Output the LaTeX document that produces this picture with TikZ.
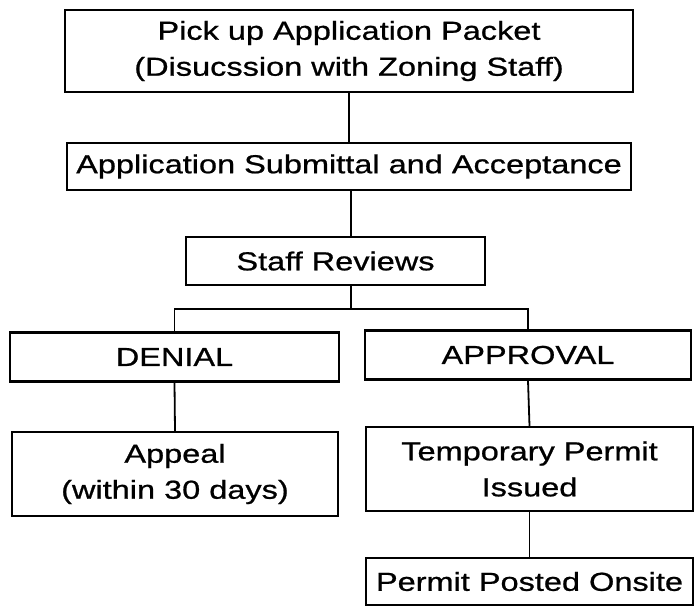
\documentclass[tikz,border=0pt]{standalone}
\usepackage{fontspec}
\setmainfont[FakeStretch=1.25,FakeBold=0.8]{Liberation Sans}

\begin{document}
\begin{tikzpicture}[x=1pt,y=-1pt,
  box/.style={draw=black,line width=2.2pt,align=center,inner sep=0pt,
  font=\fontsize{26}{36}\selectfont},
  link/.style={draw=black,line width=1.8pt}]
\useasboundingbox (0,0) rectangle (695,606);
\node[box,minimum width=568pt,minimum height=82pt] (packet) at (349,51) {Pick up Application Packet\\(Disucssion with Zoning Staff)};
\node[box,minimum width=564pt,minimum height=47pt] (submit) at (349,166.5) {Application Submittal and Acceptance};
\node[box,minimum width=299pt,minimum height=48pt] (review) at (335.5,261) {Staff Reviews};
\node[box,minimum width=329pt,minimum height=49pt] (denial) at (174.5,357) {DENIAL};
\node[box,minimum width=326pt,minimum height=49pt] (approval) at (528,355) {APPROVAL};
\node[box,minimum width=326pt,minimum height=84pt] (appeal) at (175,474) {Appeal\\(within 30 days)};
\node[box,minimum width=327pt,minimum height=84pt] (temp) at (529.5,469) {Temporary Permit\\Issued};
\node[box,minimum width=327pt,minimum height=47pt] (posted) at (529.5,581.5) {Permit Posted Onsite};
\coordinate (split) at (351,309);
\draw[link] (packet.south) -- (packet.south |- submit.north);
\draw[link] (submit.south -| split) -- (review.north -| split);
\draw[link] (review.south -| split) -- (split);
\draw[link] (denial.north) |- (split) -| (approval.north);
\draw[link] (denial.south) -- (appeal.north);
\draw[link] (approval.south) -- (temp.north);
\draw[link] (temp.south) -- (posted.north);
\end{tikzpicture}
\end{document}
